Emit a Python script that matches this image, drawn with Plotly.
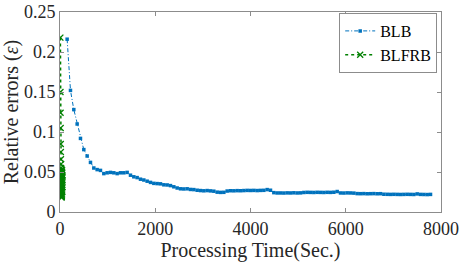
import plotly.graph_objects as go

# BLB series (Processing time in seconds, relative error)
blb_time = [150, 220, 290, 360, 430, 500, 570, 640, 710, 780,
            850, 920, 990, 1060, 1130, 1200, 1270, 1340, 1410, 1480,
            1550, 1620, 1690, 1760, 1830, 1900, 1970, 2040, 2110, 2180,
            2250, 2320, 2390, 2460, 2530, 2600, 2670, 2740, 2810, 2880,
            2950, 3020, 3090, 3160, 3230, 3300, 3370, 3440, 3510, 3580,
            3650, 3720, 3790, 3860, 3930, 4000, 4070, 4140, 4210, 4280,
            4350, 4420, 4490, 4560, 4630, 4700, 4770, 4840, 4910, 4980,
            5050, 5120, 5190, 5260, 5330, 5400, 5470, 5540, 5610, 5680,
            5750, 5820, 5890, 5960, 6030, 6100, 6170, 6240, 6310, 6380,
            6450, 6520, 6590, 6660, 6730, 6800, 6870, 6940, 7010, 7080,
            7150, 7220, 7290, 7360, 7430, 7500, 7570, 7640, 7710, 7780]
blb_error = [0.216, 0.152, 0.128, 0.110, 0.092, 0.078, 0.070, 0.062, 0.055, 0.053,
             0.052, 0.048, 0.049, 0.0495, 0.049, 0.048, 0.049, 0.049, 0.0495, 0.046,
             0.044, 0.043, 0.041, 0.040, 0.0385, 0.037, 0.0358, 0.0355, 0.0352, 0.034,
             0.0338, 0.033, 0.0315, 0.030, 0.029, 0.0288, 0.029, 0.0282, 0.028, 0.0272,
             0.0268, 0.0265, 0.0268, 0.0264, 0.026, 0.0248, 0.0245, 0.0246, 0.0262, 0.0266,
             0.0265, 0.0267, 0.0266, 0.0268, 0.027, 0.0269, 0.027, 0.0268, 0.027, 0.0271,
             0.028, 0.0272, 0.0242, 0.0238, 0.0238, 0.0237, 0.0239, 0.0238, 0.0240, 0.0238,
             0.0239, 0.0244, 0.0246, 0.0245, 0.0244, 0.0246, 0.0245, 0.0244, 0.0246, 0.0245,
             0.0247, 0.0256, 0.0238, 0.0237, 0.0239, 0.0238, 0.0236, 0.0230, 0.0229, 0.0230,
             0.0228, 0.0229, 0.0230, 0.0228, 0.0229, 0.0222, 0.0221, 0.0220, 0.0221, 0.0220,
             0.0219, 0.0220, 0.0221, 0.0220, 0.0219, 0.0226, 0.0220, 0.0219, 0.0218, 0.0220]

# BLFRB series
blfrb_time = [8, 10, 12, 14, 16, 18, 20, 22, 24, 30,
              22, 35, 26, 40, 24, 38, 28, 45, 25, 42,
              30, 48, 27, 40, 32, 50, 26, 44, 30, 52,
              28, 46, 34, 50, 30, 48, 36, 52, 32, 46,
              38, 50, 34, 44]
blfrb_error = [0.218, 0.150, 0.124, 0.105, 0.085, 0.075, 0.066, 0.060, 0.055, 0.052,
               0.048, 0.053, 0.044, 0.050, 0.041, 0.047, 0.038, 0.052, 0.035, 0.045,
               0.033, 0.049, 0.030, 0.042, 0.028, 0.046, 0.026, 0.039, 0.024, 0.044,
               0.022, 0.036, 0.021, 0.040, 0.020, 0.034, 0.019, 0.031, 0.018, 0.027,
               0.020, 0.025, 0.019, 0.022]

x_ticks = [0, 2000, 4000, 6000, 8000]
y_ticks = [0, 0.05, 0.1, 0.15, 0.2, 0.25]
y_tick_labels = ["0", "0.05", "0.1", "0.15", "0.2", "0.25"]

FONT = "Liberation Serif"
BLUE = "rgb(0,114,189)"
GREEN = "rgb(0,128,0)"
AX = "rgb(140,140,140)"

fig = go.Figure()
fig.add_trace(go.Scatter(
    x=blb_time, y=blb_error, name="BLB", mode="lines+markers",
    line=dict(color=BLUE, width=1, dash="4px,2px,1px,2px"),
    marker=dict(symbol="square", size=3.5, color=BLUE),
))
fig.add_trace(go.Scatter(
    x=blfrb_time, y=blfrb_error, name="BLFRB", mode="lines+markers",
    line=dict(color=GREEN, width=1.5, dash="dot"),
    marker=dict(symbol="x-thin", size=6, line=dict(color=GREEN, width=1.3), color=GREEN),
))

fig.update_layout(
    width=463, height=262,
    margin=dict(l=60, r=22, t=12, b=50),
    paper_bgcolor="white", plot_bgcolor="white",
    font=dict(family=FONT, size=18, color="rgb(38,38,38)"),
    showlegend=True,
    legend=dict(
        x=0.99, y=0.995, xanchor="right", yanchor="top",
        bgcolor="white", bordercolor=AX, borderwidth=1,
        font=dict(family=FONT, size=16, color="black"),
        itemwidth=30, tracegroupgap=0,
    ),
)
fig.update_xaxes(
    range=[0, 8000], tickvals=x_ticks, ticktext=[str(v) for v in x_ticks],
    showgrid=False, zeroline=False, automargin=False,
    showline=True, linecolor=AX, linewidth=1, mirror="ticks",
    ticks="inside", ticklen=4, tickcolor=AX,
    tickfont=dict(size=18),
    title=dict(text="Processing Time(Sec.)", font=dict(size=20), standoff=0),
)
fig.update_yaxes(
    range=[0, 0.25], tickvals=y_ticks, ticktext=y_tick_labels,
    showgrid=False, zeroline=False, automargin=False,
    showline=True, linecolor=AX, linewidth=1, mirror="ticks",
    ticks="inside", ticklen=4, tickcolor=AX,
    tickfont=dict(size=18),
    title=dict(text="Relative errors (<i>ε</i>)", font=dict(size=20), standoff=0),
)

# remove the browser's default page margin so the figure sits at the window's corner
fig.write_html("out.html", config={"displayModeBar": False},
               post_script="document.body.style.margin='0';")
